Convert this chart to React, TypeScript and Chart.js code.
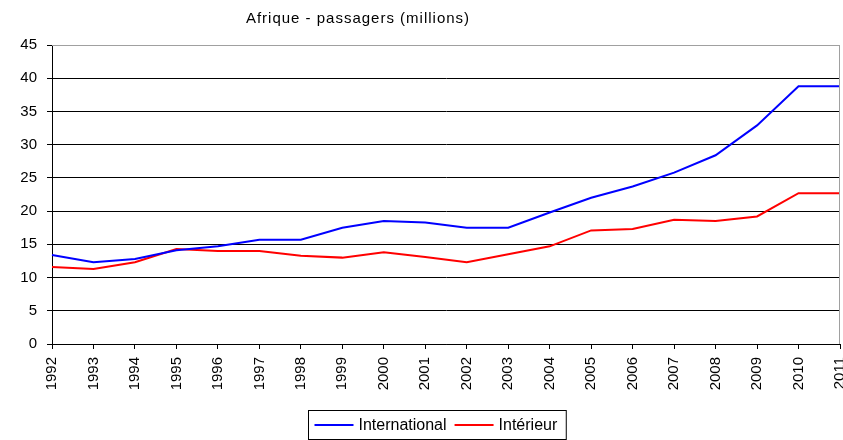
import React, { useEffect, useRef } from "react";
import { Chart, registerables } from "chart.js";

Chart.register(...registerables);

const TITLE = "Afrique - passagers (millions)";
const YEARS = ["1992","1993","1994","1995","1996","1997","1998","1999","2000","2001","2002","2003","2004","2005","2006","2007","2008","2009","2010","2011"];
const INTERNATIONAL = [13.4, 12.3, 12.8, 14.1, 14.7, 15.7, 15.7, 17.5, 18.5, 18.3, 17.5, 17.5, 19.8, 22.0, 23.7, 25.8, 28.4, 32.9, 38.8, 38.8];
const INTERIEUR = [11.6, 11.3, 12.3, 14.3, 14.0, 14.0, 13.3, 13.0, 13.8, 13.1, 12.3, 13.5, 14.7, 17.1, 17.3, 18.7, 18.5, 19.2, 22.7, 22.7];
const SERIES_NAMES = ["International", "Intérieur"];
const SERIES_COLORS = ["#0000ff", "#ff0000"];
const Y_MAX = 45;
const Y_STEP = 5;

const FONT = "'Liberation Sans', Arial, sans-serif";

const decorPlugin = {
  id: "decor",
  afterDraw(chart: any) {
    const ctx = chart.ctx;
    const ca = chart.chartArea;
    ctx.save();
    // gray frame top / right
    ctx.strokeStyle = "#a0a0a0";
    ctx.lineWidth = 1;
    ctx.beginPath();
    ctx.moveTo(ca.left, Math.round(ca.top) + 0.5);
    ctx.lineTo(Math.round(ca.right) - 0.5, Math.round(ca.top) + 0.5);
    ctx.lineTo(Math.round(ca.right) - 0.5, ca.bottom);
    ctx.stroke();

    // title
    ctx.fillStyle = "#000";
    ctx.font = `15px ${FONT}`;
    (ctx as any).letterSpacing = "1px";
    ctx.textAlign = "center";
    ctx.textBaseline = "middle";
    ctx.fillText(TITLE, 358, 19);
    (ctx as any).letterSpacing = "0px";

    // legend
    ctx.font = `16px ${FONT}`;
    ctx.textAlign = "left";
    const lineLen = 39;
    const padL = 6;
    const padR = 9;
    const gapText = 5;
    const gapItem = 8;
    const widths = SERIES_NAMES.map((n) => ctx.measureText(n).width);
    let total = padL;
    widths.forEach((w, i) => {
      total += lineLen + gapText + w + (i < widths.length - 1 ? gapItem : padR);
    });
    const cx = 437;
    const left = Math.round(cx - total / 2) + 0.5;
    const top = 410.5;
    const h = 29;
    ctx.strokeStyle = "#000";
    ctx.lineWidth = 1;
    ctx.strokeRect(left, top, total, h);
    let x = left + padL;
    const ym = top + h / 2;
    SERIES_NAMES.forEach((n, i) => {
      ctx.strokeStyle = SERIES_COLORS[i];
      ctx.lineWidth = 2;
      ctx.beginPath();
      ctx.moveTo(x, ym);
      ctx.lineTo(x + lineLen, ym);
      ctx.stroke();
      x += lineLen + gapText;
      ctx.fillStyle = "#000";
      ctx.fillText(n, x, ym + 1);
      x += widths[i] + gapItem;
    });
    ctx.restore();
  },
};

export default function App() {
  const ref = useRef<HTMLCanvasElement | null>(null);
  useEffect(() => {
    document.body.style.margin = "0";
    const canvas = ref.current!;
    const chart = new Chart(canvas, {
      type: "line",
      data: {
        labels: YEARS,
        datasets: [
          {
            label: SERIES_NAMES[0],
            data: INTERNATIONAL,
            borderColor: SERIES_COLORS[0],
            backgroundColor: SERIES_COLORS[0],
            borderWidth: 2,
            pointRadius: 0,
            tension: 0,
          },
          {
            label: SERIES_NAMES[1],
            data: INTERIEUR,
            borderColor: SERIES_COLORS[1],
            backgroundColor: SERIES_COLORS[1],
            borderWidth: 2,
            pointRadius: 0,
            tension: 0,
          },
        ],
      },
      options: {
        responsive: false,
        animation: false,
        layout: { padding: { top: 45, left: 0, right: 3, bottom: 0 } },
        plugins: {
          legend: { display: false },
          title: { display: false },
          tooltip: { enabled: false },
        },
        scales: {
          x: {
            offset: false,
            grid: {
              drawOnChartArea: false,
              drawTicks: true,
              tickLength: 5,
              color: "#000",
            },
            border: { color: "#000", width: 1 },
            ticks: {
              autoSkip: false,
              maxRotation: 90,
              minRotation: 90,
              padding: 8,
              color: "#000",
              font: { family: FONT, size: 15 },
            },
            afterFit(scale: any) {
              scale.height = 96;
              scale.paddingLeft = 0;
              scale.paddingRight = 0;
            },
          },
          y: {
            min: 0,
            max: Y_MAX,
            ticks: {
              stepSize: Y_STEP,
              padding: 10,
              color: "#000",
              font: { family: FONT, size: 15 },
            },
            grid: {
              color: (c: any) => (c.tick && c.tick.value === Y_MAX ? "#a0a0a0" : "#000"),
              tickColor: "#000",
              tickLength: 5,
            },
            border: { color: "#000", width: 1 },
            afterFit(scale: any) {
              scale.width = 52;
            },
          },
        },
      },
      plugins: [decorPlugin],
    });
    return () => chart.destroy();
  }, []);
  return (
    <div style={{ position: "relative", width: 843, height: 440 }}>
      <canvas ref={ref} width={843} height={440} style={{ display: "block" }} />
    </div>
  );
}
